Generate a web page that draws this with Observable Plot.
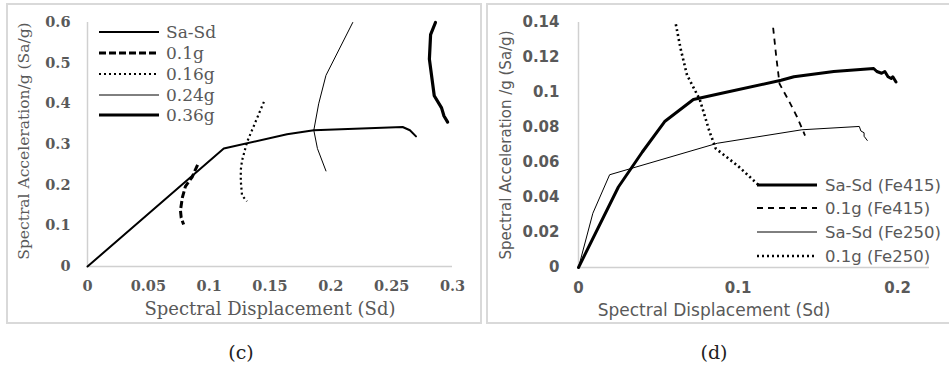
<!DOCTYPE html>
<html><head><meta charset="utf-8">
<script src="https://cdn.jsdelivr.net/npm/d3@7"></script>
<script src="https://cdn.jsdelivr.net/npm/@observablehq/plot@0.6"></script>
<style>
body{margin:0;background:#fff;}
#wrap{position:relative;width:949px;height:369px;overflow:hidden;background:#fff;}
.panel{position:absolute;box-sizing:border-box;border:2px solid #d9d9d9;}
.abs{position:absolute;white-space:nowrap;color:#595959;}
.leg{position:absolute;display:flex;align-items:center;white-space:nowrap;color:#595959;}
</style></head>
<body><div id="wrap"></div>
<script>
// ---------- Panel (c) data: [Sd, Sa/g] ----------
const cSaSd = [[0,0],[0.112,0.29],[0.164,0.325],[0.186,0.335],[0.259,0.343],[0.265,0.335],[0.27,0.32]];
const c01g  = [[0.0905,0.25],[0.086,0.22],[0.0805,0.197],[0.078,0.17],[0.0764,0.138],[0.077,0.12],[0.079,0.103]];
const c016g = [[0.145,0.405],[0.138,0.355],[0.131,0.305],[0.127,0.26],[0.126,0.238],[0.126,0.21],[0.127,0.175],[0.131,0.16]];
const c024g = [[0.218,0.6],[0.196,0.47],[0.19,0.4],[0.186,0.335],[0.189,0.29],[0.196,0.235]];
const c036g = [[0.286,0.6],[0.282,0.57],[0.281,0.51],[0.285,0.42],[0.291,0.39],[0.293,0.37],[0.296,0.355]];
const cXTicks = [0,0.05,0.1,0.15,0.2,0.25,0.3];
const cXLabels = ["0","0.05","0.1","0.15","0.2","0.25","0.3"];
const cYTicks = [0,0.1,0.2,0.3,0.4,0.5,0.6];
const cYLabels = ["0","0.1","0.2","0.3","0.4","0.5","0.6"];
const cLegend = ["Sa-Sd","0.1g","0.16g","0.24g","0.36g"];

// ---------- Panel (d) data ----------
const dSaSd415 = [[0,0],[0.025,0.046],[0.04,0.066],[0.054,0.0834],[0.072,0.096],[0.089,0.0994],[0.127,0.107],[0.135,0.109],[0.16,0.112],[0.185,0.1137],[0.187,0.112],[0.19,0.111],[0.192,0.112],[0.194,0.109],[0.196,0.108],[0.197,0.109],[0.199,0.106]];
const d01g415  = [[0.122,0.137],[0.124,0.12],[0.126,0.105],[0.132,0.095],[0.137,0.086],[0.142,0.0754]];
const dSaSd250 = [[0,0],[0.009,0.031],[0.0195,0.053],[0.087,0.071],[0.14,0.0787],[0.176,0.0806],[0.177,0.078],[0.179,0.077],[0.179,0.075],[0.181,0.0726]];
const d01g250  = [[0.061,0.139],[0.064,0.125],[0.068,0.11],[0.076,0.096],[0.082,0.078],[0.086,0.068],[0.1,0.058],[0.113,0.047]];
const dXTicks = [0,0.1,0.2];
const dXLabels = ["0","0.1","0.2"];
const dYTicks = [0,0.02,0.04,0.06,0.08,0.1,0.12,0.14];
const dYLabels = ["0","0.02","0.04","0.06","0.08","0.1","0.12","0.14"];
const dLegend = ["Sa-Sd (Fe415)","0.1g (Fe415)","Sa-Sd (Fe250)","0.1g (Fe250)"];

const wrap = document.getElementById("wrap");
function add(html, css, cls){const d=document.createElement("div");d.className=cls||"abs";d.innerHTML=html;Object.assign(d.style,css);wrap.appendChild(d);return d;}
const lineOpts = (w,dash)=>({x:d=>d[0],y:d=>d[1],stroke:"black",strokeWidth:w,strokeDasharray:dash,strokeLinejoin:"round",strokeLinecap:dash?"butt":"round"});

// ---------- Panel (c) ----------
const cStyles = [[2,null],[3,"7,3"],[2.2,"2,3"],[1,null],[3.2,null]];
const pc = Plot.plot({
  width:473,height:318,marginLeft:80,marginRight:28,marginTop:18,marginBottom:56,
  x:{domain:[0,0.3]}, y:{domain:[0,0.6]},
  style:{fontFamily:"DejaVu Serif",fontSize:"14.5px",fontWeight:"bold",color:"#595959",background:"transparent",overflow:"visible"},
  marks:[
    Plot.axisX(cXTicks,{tickSize:0,tickPadding:14,label:null,tickFormat:(d,i)=>cXLabels[i]}),
    Plot.axisY(cYTicks,{tickSize:0,tickPadding:17,label:null,tickFormat:(d,i)=>cYLabels[i]}),
    Plot.ruleX([0],{stroke:"#d0d0d0",strokeWidth:1.5}),
    Plot.ruleY([0],{stroke:"#d0d0d0",strokeWidth:1.5}),
    Plot.line(cSaSd,lineOpts(...cStyles[0])),
    Plot.line(c01g,lineOpts(...cStyles[1])),
    Plot.line(c016g,lineOpts(...cStyles[2])),
    Plot.line(c024g,lineOpts(...cStyles[3])),
    Plot.line(c036g,lineOpts(...cStyles[4]))
  ]
});
add("",{left:"6px",top:"3px",width:"476px",height:"321px"},"panel");
pc.style.position="absolute";pc.style.left="7px";pc.style.top="4px";
wrap.appendChild(pc);
add("Spectral Displacement (Sd)",{left:"270px",top:"308px",transform:"translate(-50%,-50%)",fontFamily:"DejaVu Serif",fontSize:"18px"});
add("Spectral Acceleration/g (Sa/g)",{left:"24px",top:"141px",transform:"translate(-50%,-50%) rotate(-90deg)",fontFamily:"DejaVu Serif",fontSize:"15.5px"});
add("(c)",{left:"241px",top:"352px",transform:"translate(-50%,-50%)",fontFamily:"DejaVu Serif",fontSize:"19px",color:"#222"});
const cRowsY=[32,53,74,95,115];
cLegend.forEach((t,i)=>{
  const [w,dash]=cStyles[i];
  add(`<svg width="60" height="8" style="margin-right:7px"><line x1="0" y1="4" x2="60" y2="4" stroke="black" stroke-width="${w}" ${dash?`stroke-dasharray="${dash}"`:""}/></svg><span>${t}</span>`,
    {left:"99px",top:(cRowsY[i]-11)+"px",height:"22px",fontFamily:"DejaVu Serif",fontSize:"17px"},"leg");
});

// ---------- Panel (d) ----------
const dStyles = [[3,null],[1.8,"6,5"],[1,null],[2.6,"2,3"]];
const pd = Plot.plot({
  width:461,height:318,marginLeft:91,marginRight:19,marginTop:18,marginBottom:55,
  x:{domain:[0,0.22]}, y:{domain:[0,0.14]},
  style:{fontFamily:"DejaVu Sans",fontSize:"15px",fontWeight:"bold",color:"#595959",background:"transparent",overflow:"visible"},
  marks:[
    Plot.axisX(dXTicks,{tickSize:0,tickPadding:15,label:null,tickFormat:(d,i)=>dXLabels[i]}),
    Plot.axisY(dYTicks,{tickSize:0,tickPadding:19,label:null,tickFormat:(d,i)=>dYLabels[i]}),
    Plot.ruleX([0],{stroke:"#d0d0d0",strokeWidth:1.5}),
    Plot.ruleY([0],{stroke:"#d0d0d0",strokeWidth:1.5}),
    Plot.line(dSaSd415,lineOpts(...dStyles[0])),
    Plot.line(d01g415,lineOpts(...dStyles[1])),
    Plot.line(dSaSd250,lineOpts(...dStyles[2])),
    Plot.line(d01g250,lineOpts(...dStyles[3]))
  ]
});
add("",{left:"486px",top:"3px",width:"466px",height:"321px"},"panel");
pd.style.position="absolute";pd.style.left="487px";pd.style.top="4px";
wrap.appendChild(pd);
add("Spectral Displacement (Sd)",{left:"714px",top:"310px",transform:"translate(-50%,-50%)",fontFamily:"DejaVu Sans",fontSize:"17px"});
add("Spectral Acceleration /g (Sa/g)",{left:"506px",top:"145px",transform:"translate(-50%,-50%) rotate(-90deg)",fontFamily:"DejaVu Sans",fontSize:"15px"});
add("(d)",{left:"714px",top:"352px",transform:"translate(-50%,-50%)",fontFamily:"DejaVu Serif",fontSize:"19px",color:"#222"});
const dRowsY=[185,208,232,256];
dLegend.forEach((t,i)=>{
  const [w,dash]=dStyles[i];
  add(`<svg width="60" height="8" style="margin-right:8px"><line x1="0" y1="4" x2="60" y2="4" stroke="black" stroke-width="${w}" ${dash?`stroke-dasharray="${dash}"`:""}/></svg><span>${t}</span>`,
    {left:"757px",top:(dRowsY[i]-11)+"px",height:"22px",fontFamily:"DejaVu Sans",fontSize:"16.5px"},"leg");
});
</script></body></html>
